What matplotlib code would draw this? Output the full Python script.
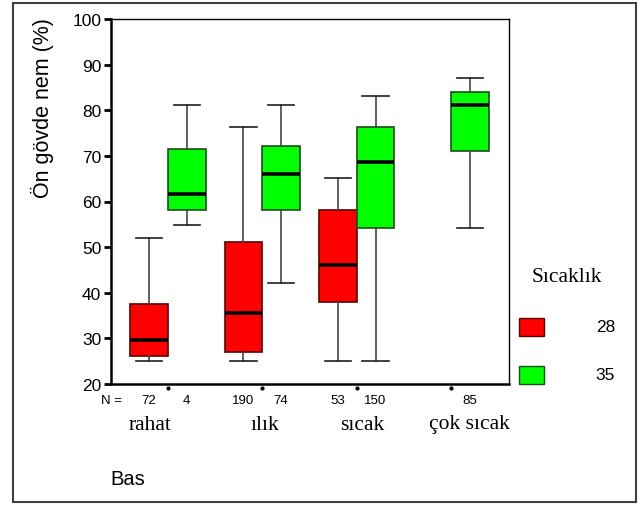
import numpy as np
import matplotlib.pyplot as plt
from matplotlib.patches import Rectangle
from matplotlib import transforms

# Data (Ön gövde nem, %)
categories = ['rahat', 'ılık', 'sıcak', 'çok sıcak']
groups = ['28', '35']

# red (28) series; çok sıcak has no 28 group
red_whislo = [25.0, 25.0, 25.0]
red_q1 = [26.1, 27.1, 38.0]
red_med = [29.6, 35.5, 46.1]
red_q3 = [37.6, 51.2, 58.2]
red_whishi = [52.1, 76.4, 65.2]
red_n = [72, 190, 53]

# green (35) series
green_whislo = [54.9, 42.2, 25.0, 54.1]
green_q1 = [58.2, 58.2, 54.1, 71.0]
green_med = [61.6, 66.0, 68.6, 81.1]
green_q3 = [71.5, 72.2, 76.3, 84.1]
green_whishi = [81.2, 81.2, 83.2, 87.0]
green_n = [4, 74, 150, 85]

W, H = 641, 506
fig = plt.figure(figsize=(W / 100, H / 100), dpi=100)
ax = fig.add_axes([111 / W, 1 - 385 / H, 398 / W, 365 / H])

def stats(lo, q1, med, q3, hi):
    return [dict(whislo=a, q1=b, med=c, q3=d, whishi=e, fliers=[])
            for a, b, c, d, e in zip(lo, q1, med, q3, hi)]

red_pos = np.arange(len(red_med)) - 0.2
green_pos = np.arange(len(green_med)) + 0.2

common = dict(widths=0.4, patch_artist=True, showfliers=False,
              whiskerprops=dict(color='#454545', linewidth=1.2),
              capprops=dict(color='#202020', linewidth=1.2),
              medianprops=dict(color='black', linewidth=2.6, solid_capstyle='butt'),
              manage_ticks=False)

ax.bxp(stats(red_whislo, red_q1, red_med, red_q3, red_whishi), positions=red_pos,
       boxprops=dict(facecolor='#ff0000', edgecolor='#5a0000', linewidth=1.2),
       capwidths=0.28, **common)
ax.bxp(stats(green_whislo, green_q1, green_med, green_q3, green_whishi), positions=green_pos,
       boxprops=dict(facecolor='#00ff00', edgecolor='#1e4d1e', linewidth=1.2),
       capwidths=0.28, **common)

ax.set_xlim(-0.604, 3.615)
ax.set_ylim(20, 100)
ax.set_yticks(np.arange(20, 101, 10))
ax.tick_params(axis='y', length=5, width=2, labelsize=12.5, pad=2, colors='black')
for lab in ax.get_yticklabels():
    lab.set_fontfamily('Liberation Sans')
ax.set_xticks([])
for s in ['left', 'bottom']:
    ax.spines[s].set_linewidth(1.8)
for s in ['top', 'right']:
    ax.spines[s].set_linewidth(1.0)

# y label sits high, next to the upper half of the axis
fig.text(42 / W, 1 - 108 / H, 'Ön gövde nem (%)', rotation=90, ha='center', va='center',
         fontsize=15.5, family='Liberation Sans')

# small dots under the x axis at each category
blend = transforms.blended_transform_factory(ax.transData, ax.transAxes)
ax.scatter(np.arange(len(categories)), [-0.012] * len(categories), s=4, marker='o',
           color='black', transform=blend, clip_on=False)

# N counts
ny = -16 / 365
fig.text(111 / W, 1 - 401 / H, 'N =', ha='center', va='center', fontsize=9.5,
         family='Liberation Sans')
for x, n in zip(red_pos, red_n):
    ax.text(x, ny, str(n), transform=blend, ha='center', va='center', fontsize=9.5,
            family='Liberation Sans')
for x, n in zip(green_pos, green_n):
    ax.text(x, ny, str(n), transform=blend, ha='center', va='center', fontsize=9.5,
            family='Liberation Sans')

# category labels
label_shift = [-0.19, 0.03, 0.06, 0.2]
for i, (c, d) in enumerate(zip(categories, label_shift)):
    ax.text(i + d, -40 / 365, c, transform=blend, ha='center', va='center',
            fontsize=15.5, family='Liberation Serif')

fig.text(128 / W, 1 - 480 / H, 'Bas', ha='center', va='center', fontsize=14.5,
         family='Liberation Sans')

# legend
fig.text(567 / W, 1 - 278 / H, 'Sıcaklık', ha='center', va='center', fontsize=15.5,
         family='Liberation Serif')
colors = [('#ff0000', '#5a0000'), ('#00ff00', '#1e4d1e')]
for (fc, ec), g, top in zip(colors, groups, [319, 367]):
    fig.patches.append(Rectangle((519 / W, 1 - (top + 18) / H), 25 / W, 18 / H,
                                 facecolor=fc, edgecolor=ec, linewidth=1.0,
                                 transform=fig.transFigure))
    fig.text(615 / W, 1 - (top + 9) / H, g, ha='right', va='center', fontsize=12.5,
             family='Liberation Sans')

# outer frame
fig.patches.append(Rectangle((13 / W, 1 - 503 / H), 623 / W, 499 / H, fill=False,
                             edgecolor='#404040', linewidth=1.5, transform=fig.transFigure))

fig.savefig('out.png', dpi=100, facecolor='white')
